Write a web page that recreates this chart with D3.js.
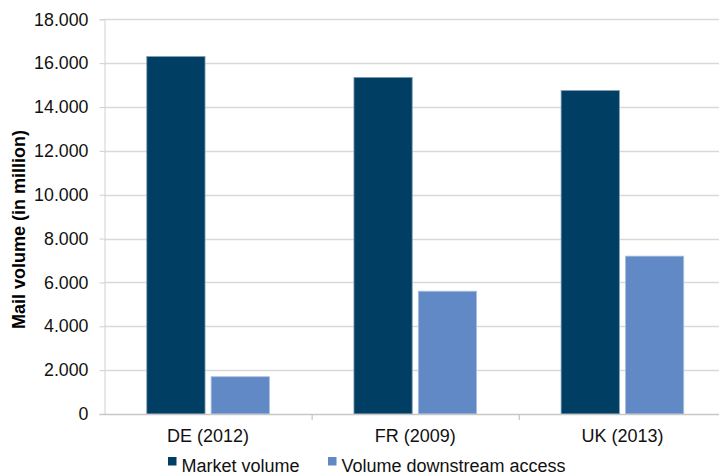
<!DOCTYPE html>
<html>
<head>
<meta charset="utf-8">
<script src="https://cdn.jsdelivr.net/npm/d3@7"></script>
<style>
  html, body { margin: 0; padding: 0; background: #fff; }
  svg { display: block; font-family: "Liberation Sans", Arial, sans-serif; }
</style>
</head>
<body>
<svg id="chart" width="719" height="474"></svg>
<script>
// Mail volumes by country (in million)
const categories = ["DE (2012)", "FR (2009)", "UK (2013)"];
const seriesNames = ["Market volume", "Volume downstream access"];
const marketVolume = [16300, 15350, 14750];
const downstreamVolume = [1700, 5600, 7200];
const yTicks = [0, 2000, 4000, 6000, 8000, 10000, 12000, 14000, 16000, 18000];
const colors = ["#003f63", "#6089c6"];

const svg = d3.select("#chart");
const plotLeft = 104.5, plotRight = 726, plotTop = 19.3, plotBottom = 414;
const groupWidth = 122.6;

const x0 = d3.scaleBand().domain(categories).range([plotLeft, plotRight]).paddingInner(0).paddingOuter(0);
const x1 = d3.scaleBand().domain(seriesNames).range([0, groupWidth]).paddingInner(0.095);
const y = d3.scaleLinear().domain([0, 18000]).range([plotBottom, plotTop]);

const fmt = v => d3.format(",")(v).replace(/,/g, ".");

// gridlines
svg.append("g").selectAll("line").data(yTicks.filter(d => d > 0)).join("line")
  .attr("x1", plotLeft).attr("x2", plotRight)
  .attr("y1", d => Math.round(y(d)) + 0.5).attr("y2", d => Math.round(y(d)) + 0.5)
  .attr("stroke", "#d9d9d9").attr("stroke-width", 1.3);

// y axis
const yAxis = d3.axisLeft(y).tickValues(yTicks).tickFormat(fmt).tickSize(5).tickPadding(11);
const yg = svg.append("g").attr("transform", `translate(${plotLeft},0)`).call(yAxis);
yg.select(".domain").attr("stroke", "#d0d0d0");
yg.selectAll(".tick line").attr("stroke", "#d0d0d0");
yg.selectAll("text").attr("font-size", 17.8).attr("fill", "#111")
  .attr("font-family", "'Liberation Sans', Arial, sans-serif");

// bars
const rows = categories.map((c, i) => ({ cat: c, vals: [marketVolume[i], downstreamVolume[i]] }));
const groups = svg.append("g").selectAll("g").data(rows).join("g")
  .attr("transform", d => `translate(${x0(d.cat) + (x0.bandwidth() - groupWidth) / 2},0)`);
groups.selectAll("rect").data(d => d.vals.map((v, j) => ({ name: seriesNames[j], v, j }))).join("rect")
  .attr("x", d => x1(d.name))
  .attr("width", x1.bandwidth())
  .attr("y", d => y(d.v))
  .attr("height", d => y(0) - y(d.v))
  .attr("fill", d => colors[d.j])
  .attr("stroke", d => d.j === 0 ? "#7f9bb3" : "#a9c0e3")
  .attr("stroke-width", 0.8);

// x axis
const xAxis = d3.axisBottom(x0).tickSize(0).tickPadding(15);
const xg = svg.append("g").attr("transform", `translate(0,${plotBottom})`).call(xAxis);
xg.select(".domain").remove();
xg.append("line").attr("x1", plotLeft - 5).attr("x2", plotRight).attr("y1", 0.5).attr("y2", 0.5)
  .attr("stroke", "#c8c8c8").attr("stroke-width", 1.3);
xg.selectAll(".sep").data(categories.slice(1)).join("line").attr("class", "sep")
  .attr("x1", d => x0(d) + 0.5).attr("x2", d => x0(d) + 0.5)
  .attr("y1", 0).attr("y2", 6).attr("stroke", "#c8c8c8").attr("stroke-width", 1.3);
xg.selectAll(".tick text").attr("font-size", 18).attr("fill", "#111")
  .attr("font-family", "'Liberation Sans', Arial, sans-serif");

// y axis title
svg.append("text")
  .attr("transform", "translate(25,229.5) rotate(-90)")
  .attr("text-anchor", "middle")
  .attr("font-size", 18).attr("font-weight", "bold").attr("fill", "#000")
  .text("Mail volume (in million)");

// legend
const legendX = [168, 328];
const lg = svg.append("g").selectAll("g").data(seriesNames).join("g")
  .attr("transform", (d, i) => `translate(${legendX[i]},457)`);
lg.append("rect").attr("width", 8.5).attr("height", 8.5).attr("y", 0)
  .attr("fill", (d, i) => colors[i]);
lg.append("text").attr("x", 13.5).attr("y", 14.5).attr("font-size", 18).attr("fill", "#111")
  .text(d => d);
</script>
</body>
</html>
